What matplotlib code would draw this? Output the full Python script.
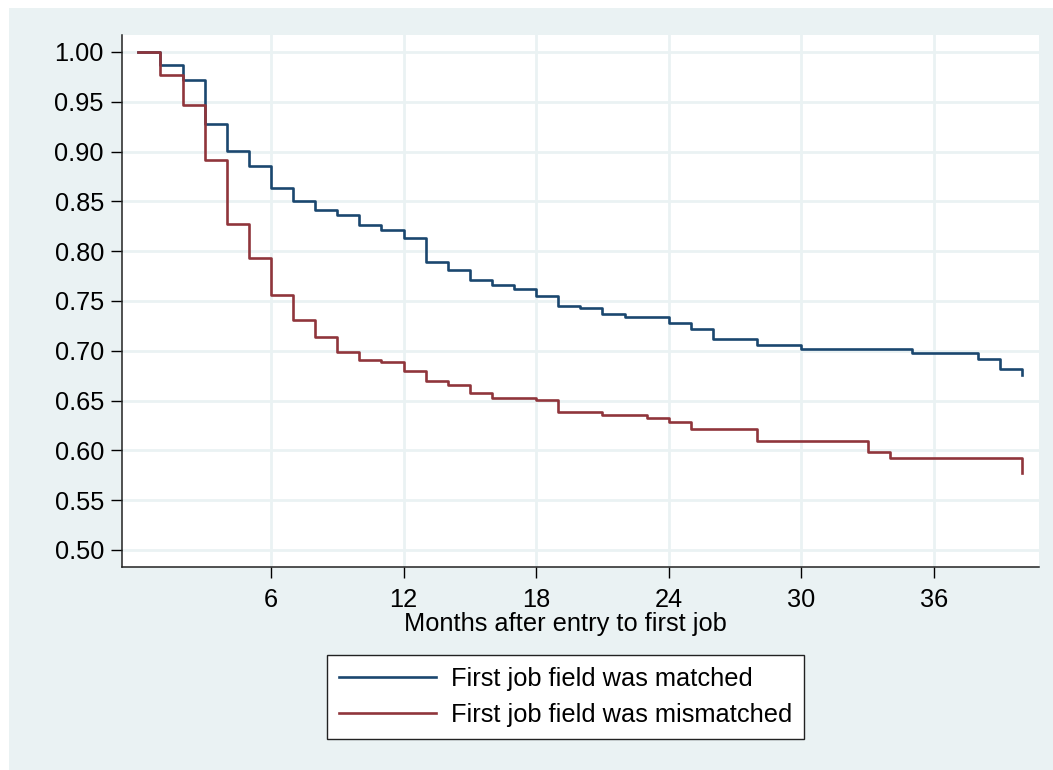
import matplotlib
matplotlib.use("Agg")
import matplotlib.pyplot as plt
from matplotlib.patches import Rectangle


# ======================================
# DATA
# ======================================

matched_months = [0, 1, 2, 3, 4, 5, 6, 7, 8, 9, 10, 11, 12, 13, 14, 15, 16,
                  17, 18, 19, 20, 21, 22, 24, 25, 26, 28, 30, 35, 38, 39, 40]
matched_surv = [1.000, 0.987, 0.972, 0.928, 0.901, 0.885, 0.863, 0.850,
                0.841, 0.836, 0.826, 0.821, 0.813, 0.789, 0.781, 0.771,
                0.766, 0.762, 0.755, 0.745, 0.743, 0.737, 0.734, 0.728,
                0.722, 0.712, 0.706, 0.702, 0.698, 0.692, 0.682, 0.676]

mismatched_months = [0, 1, 2, 3, 4, 5, 6, 7, 8, 9, 10, 11, 12, 13, 14, 15,
                     16, 18, 19, 21, 23, 24, 25, 28, 33, 34, 40]
mismatched_surv = [1.000, 0.977, 0.947, 0.892, 0.827, 0.793, 0.756, 0.731,
                   0.714, 0.699, 0.691, 0.689, 0.680, 0.670, 0.666, 0.658,
                   0.653, 0.651, 0.639, 0.635, 0.632, 0.628, 0.621, 0.609,
                   0.598, 0.592, 0.577]

x_ticks = [6, 12, 18, 24, 30, 36]
y_ticks = [0.50, 0.55, 0.60, 0.65, 0.70, 0.75, 0.80, 0.85, 0.90, 0.95, 1.00]

series_labels = ["First job field was matched", "First job field was mismatched"]


# ======================================
# STYLE
# ======================================

plt.rcParams["font.family"] = ["Liberation Sans", "DejaVu Sans"]

bg = "#EAF2F3"
navy = "#1A476F"
maroon = "#90353B"
W, H = 1053, 770
fs = 18.3

fig = plt.figure(figsize=(W / 100, H / 100), dpi=100)
fig.patch.set_facecolor("white")
fig.patches.append(Rectangle((9 / W, 0), 1 - 9 / W, 1 - 8 / H,
                             transform=fig.transFigure, facecolor=bg,
                             edgecolor="none", zorder=-10))

ax = fig.add_axes([122 / W, 1 - 567.3 / H, (1038.7 - 122) / W, (567.3 - 35) / H])
ax.set_facecolor("white")


# ======================================
# PLOT
# ======================================

ax.step(matched_months, matched_surv, where="post", color=navy,
        linewidth=1.9, label=series_labels[0], zorder=3)
ax.step(mismatched_months, mismatched_surv, where="post", color=maroon,
        linewidth=1.9, label=series_labels[1], zorder=3)

ax.set_xlim(-0.74, 40.74)
ax.set_ylim(0.4826, 1.017)
ax.set_xticks(x_ticks)
ax.set_yticks(y_ticks)
ax.set_yticklabels([f"{v:.2f}" for v in y_ticks])

ax.grid(True, color=bg, linewidth=2.0, zorder=0)
ax.set_axisbelow(True)

for side in ["top", "right"]:
    ax.spines[side].set_visible(False)
for side in ["left", "bottom"]:
    ax.spines[side].set_linewidth(1.1)
    ax.spines[side].set_color("#222222")

ax.tick_params(axis="both", labelsize=fs, colors="black",
               length=8, width=1.0, direction="out")
ax.tick_params(axis="x", pad=7)
ax.tick_params(axis="y", pad=5)

fig.text(565.5 / W, 1 - 624 / H, "Months after entry to first job",
         ha="center", va="center", fontsize=fs)

leg = fig.legend(loc="center", bbox_to_anchor=(565.6 / W, 1 - 696.8 / H),
                 fontsize=fs, frameon=True, fancybox=False, framealpha=1,
                 handlelength=3.8, handletextpad=0.6, labelspacing=0.47,
                 borderpad=0.48, borderaxespad=0)
leg.get_frame().set_edgecolor("#222222")
leg.get_frame().set_linewidth(1.0)
for line in leg.get_lines():
    line.set_linewidth(1.9)

plt.savefig("out.png", dpi=100)
